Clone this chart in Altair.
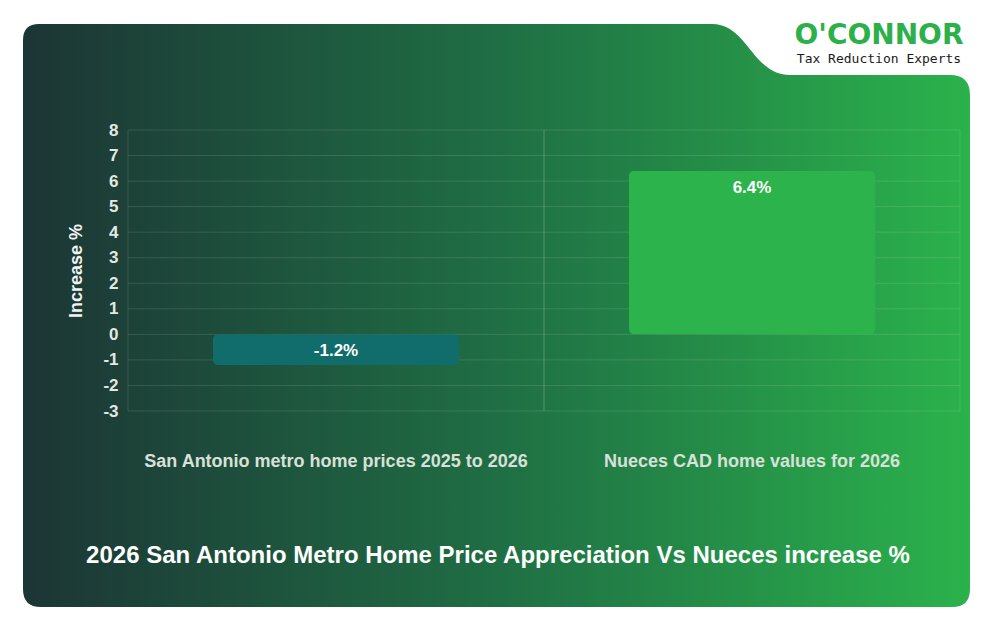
import altair as alt
import pandas as pd

# ---------------- data ----------------
categories = ["San Antonio metro home prices 2025 to 2026", "Nueces CAD home values for 2026"]
values = [-1.2, 6.4]
bar_colors = ["#116c6c", "#2db34b"]
y_ticks = [8, 7, 6, 5, 4, 3, 2, 1, 0, -1, -2, -3]
y_title = "Increase %"
chart_title = "2026 San Antonio Metro Home Price Appreciation Vs Nueces increase %"
logo_name = "O'CONNOR"
logo_tagline = "Tax Reduction Experts"

df = pd.DataFrame({"category": categories, "value": values})
ticks_df = pd.DataFrame({"tick": y_ticks})

# ---------------- layout ----------------
W, H = 832, 281
PL, PT = 120, 122
PR = 975 - PL - W
PB = 610 - PT - H
OX, OY = 8 + PL, 8 + PT  # page position of plot origin

FONT = "Liberation Sans"
GRID = "rgba(255,255,255,0.12)"

# card shape (page coords) -> normalized symbol path
cx, cy = (23 + 970) / 2, (24 + 607) / 2
half = (970 - 23) / 2
cmds = [
    ("M", [(39, 24)]),
    ("L", [(712, 24)]),
    ("C", [(748, 24), (752, 75), (790, 75)]),
    ("L", [(950, 75)]),
    ("Q", [(970, 75), (970, 95)]),
    ("L", [(970, 589)]),
    ("Q", [(970, 607), (952, 607)]),
    ("L", [(41, 607)]),
    ("Q", [(23, 607), (23, 589)]),
    ("L", [(23, 40)]),
    ("Q", [(23, 24), (39, 24)]),
]
parts = []
for c, pts in cmds:
    parts.append(c + " " + " ".join(f"{(px - cx) / half:.5f},{(py - cy) / half:.5f}" for px, py in pts))
card_path = " ".join(parts) + " Z"

gradient = alt.LinearGradient(
    gradient="linear",
    x1=0, x2=1, y1=0, y2=0,
    stops=[
        alt.GradientStop(color="#1c3535", offset=0),
        alt.GradientStop(color="#1f6e44", offset=0.5),
        alt.GradientStop(color="#2bb24c", offset=1),
    ],
)

one = pd.DataFrame({"k": [0]})

card = alt.Chart(one).mark_point(
    shape=card_path, filled=True, fill=gradient, opacity=1, strokeWidth=0,
    size=(2 * half) ** 2,
).encode(x=alt.value(cx - OX), y=alt.value(cy - OY))

xscale = alt.Scale(domain=categories, paddingInner=0, paddingOuter=0)
yscale = alt.Scale(domain=[-3, 8], nice=False, zero=False)

hgrid = alt.Chart(ticks_df).mark_rule(color=GRID, strokeWidth=1).encode(
    y=alt.Y("tick:Q", scale=yscale, axis=None)
)
vgrid0 = alt.Chart(df).mark_rule(color=GRID, strokeWidth=1).encode(
    x=alt.X("category:N", scale=xscale, bandPosition=0, axis=None)
)
vgrid1 = alt.Chart(df).mark_rule(color=GRID, strokeWidth=1).encode(
    x=alt.X("category:N", scale=xscale, bandPosition=1, axis=None)
)

bars = alt.Chart(df).mark_bar(size=246, cornerRadius=5).encode(
    x=alt.X(
        "category:N", scale=xscale, sort=categories, title=None,
        axis=alt.Axis(
            labelAngle=0, labelFont=FONT, labelFontSize=18, labelFontWeight="bold",
            labelColor="#d9e0d9", labelPadding=41, ticks=False, domain=False,
            grid=False, labelLimit=0, zindex=2, title=None,
        ),
    ),
    y=alt.Y(
        "value:Q", scale=yscale, title=y_title,
        axis=alt.Axis(
            values=y_ticks, labelExpr="'' + datum.value", labelOverlap=False,
            labelFont=FONT, labelFontSize=17, labelFontWeight="bold",
            labelColor="#e3e8e3", labelPadding=10, ticks=False, domain=False, grid=False,
            titleFont=FONT, titleFontSize=18, titleFontWeight="bold", titleColor="#f0f3f0",
            titlePadding=17, zindex=2, title=y_title,
        ),
    ),
    color=alt.Color("category:N", scale=alt.Scale(domain=categories, range=bar_colors), legend=None),
)

labels = alt.Chart(df).transform_calculate(
    label="'' + datum.value + '%'",
    ytop="max(datum.value, 0)",
).mark_text(
    dy=17, font=FONT, fontSize=17, fontWeight="bold", color="white", baseline="middle"
).encode(
    x=alt.X("category:N", scale=xscale, axis=None),
    y=alt.Y("ytop:Q", scale=yscale, axis=None),
    text="label:N",
)

title_df = pd.DataFrame({"t": [chart_title]})
title = alt.Chart(title_df).mark_text(
    font=FONT, fontSize=24, fontWeight="bold", color="white", baseline="middle", align="center"
).encode(x=alt.value(498 - OX), y=alt.value(556 - OY), text="t:N")

logo1 = alt.Chart(pd.DataFrame({"t": [logo_name]})).mark_text(
    font="DejaVu Sans", fontSize=28, fontWeight="bold", color="#2bb04a", baseline="middle", align="center"
).encode(x=alt.value(879 - OX), y=alt.value(36 - OY), text="t:N")

logo2 = alt.Chart(pd.DataFrame({"t": [logo_tagline]})).mark_text(
    font="DejaVu Sans Mono", fontSize=13, color="#1a1a1a", baseline="middle", align="center"
).encode(x=alt.value(879 - OX), y=alt.value(59 - OY), text="t:N")

chart = alt.layer(card, hgrid, vgrid0, vgrid1, bars, labels, title, logo1, logo2).resolve_axis(
    x="independent", y="independent"
).properties(
    width=W, height=H,
    autosize=alt.AutoSizeParams(type="none"),
    padding={"left": PL, "top": PT, "right": PR, "bottom": PB},
).configure(background="white").configure_view(strokeWidth=0)

chart.save("out.html", embed_options={"renderer": "svg", "actions": False})
